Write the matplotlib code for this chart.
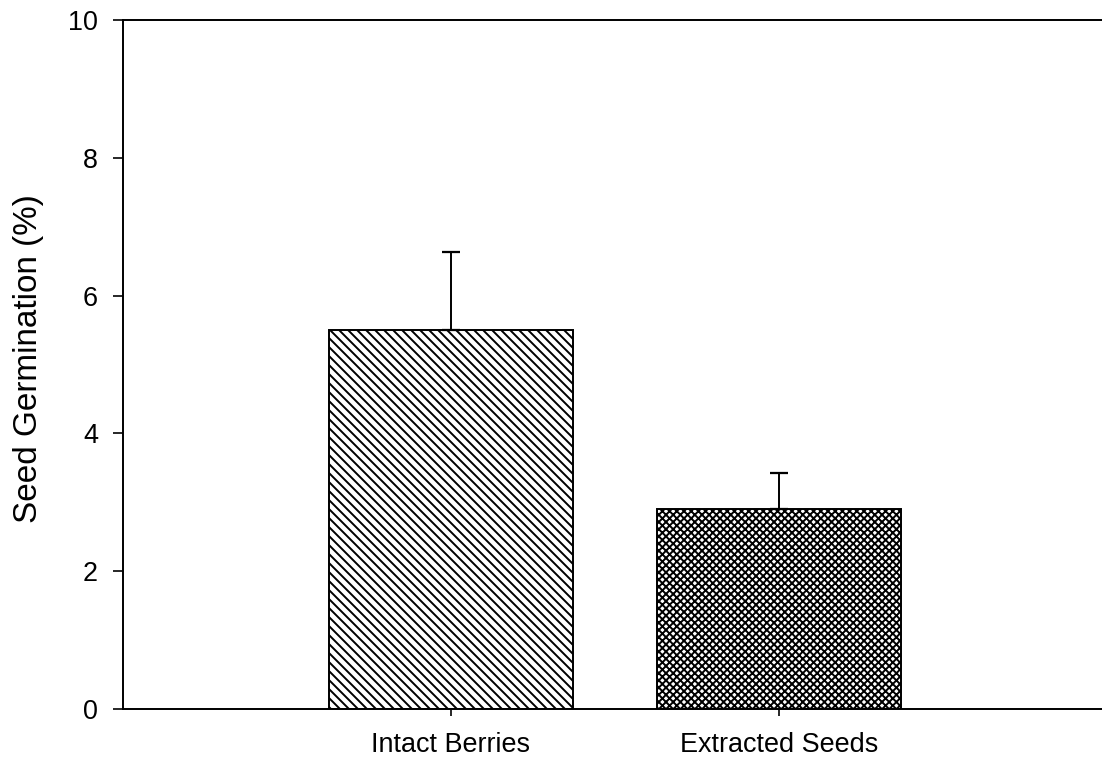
import matplotlib
matplotlib.use("Agg")
import matplotlib.pyplot as plt

categories = ["Intact Berries", "Extracted Seeds"]
germination = [5.5, 2.9]
sem = [1.14, 0.53]
hatches = ["\\\\\\\\", "xxxxx"]
yticks = [0, 2, 4, 6, 8, 10]

DPI = 108
plt.rcParams['font.family'] = ['Liberation Sans', 'DejaVu Sans']
plt.rcParams['hatch.linewidth'] = 1.3

fig = plt.figure(figsize=(1102 / DPI, 761 / DPI), dpi=DPI)
ax = fig.add_axes([122.5 / 1102, 52 / 761, 985.0 / 1102, 689 / 761])

positions = [1, 2]
bars = ax.bar(positions, germination, width=0.745, color='white',
              edgecolor='black', linewidth=1.3, zorder=2)
for b, h in zip(bars, hatches):
    b.set_hatch(h)

ax.errorbar(positions, germination, yerr=[[0] * len(sem), sem], fmt='none',
            ecolor='black', elinewidth=1.3, capsize=6.3, capthick=1.5, zorder=3)

ax.set_xlim(0, 3)
ax.set_ylim(0, 10)
ax.set_yticks(yticks)
ax.set_yticklabels([str(t) for t in yticks])
ax.set_xticks(positions)
ax.set_xticklabels(categories)

for side in ['top', 'left', 'bottom']:
    ax.spines[side].set_linewidth(1.3)
ax.spines['right'].set_visible(False)

ax.tick_params(axis='y', direction='out', length=6.7, width=1.1, labelsize=18, pad=9.7)
ax.tick_params(axis='x', direction='out', length=4.7, width=1.1, labelsize=18, pad=10.9)

ax.set_ylabel("Seed Germination (%)", fontsize=22.2)
ax.yaxis.set_label_coords(-0.080, 0.509)

fig.savefig("out.png", dpi=DPI)
